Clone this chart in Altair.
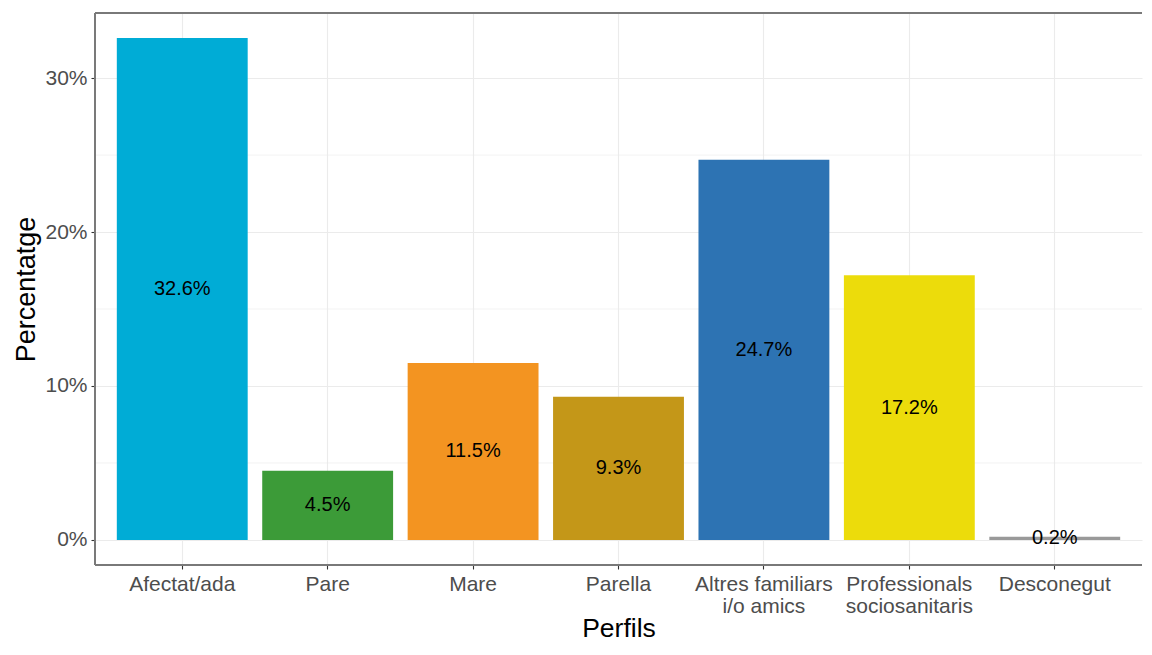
import altair as alt
import pandas as pd

categories = ["Afectat/ada", "Pare", "Mare", "Parella",
              "Altres familiars\ni/o amics", "Professionals\nsociosanitaris", "Desconegut"]
values = [32.6, 4.5, 11.5, 9.3, 24.7, 17.2, 0.2]
labels = ["32.6%", "4.5%", "11.5%", "9.3%", "24.7%", "17.2%", "0.2%"]
colors = ["#00ACD6", "#3C9B38", "#F39421", "#C49718", "#2D73B3", "#ECDC0B", "#999999"]
major_ticks = [0, 10, 20, 30]
minor_ticks = [5, 15, 25]

W, H = 1047, 552
FONT = "Liberation Sans"

df = pd.DataFrame({"cat": categories, "val": values, "label": labels})
minor_df = pd.DataFrame({"v": minor_ticks})

yscale = alt.Scale(domain=[-1.63, 34.23], nice=False, zero=False)
xscale = alt.Scale(paddingInner=0.1, paddingOuter=0.15)

xaxis = alt.Axis(
    title="Perfils", titleFontSize=26.5, titleColor="#000000", titleFontWeight="normal",
    titleFont=FONT, titleY=63, titleBaseline="middle",
    labelFont=FONT, labelFontSize=21, labelColor="#4D4D4D", labelAngle=0,
    labelExpr="split(datum.label, '\\n')", labelLineHeight=22, labelPadding=4,
    tickSize=4, tickColor="#333333", tickWidth=1.1, domain=False,
    grid=True, gridColor="#EBEBEB", gridWidth=1.1, bandPosition=0.5,
)
yaxis = alt.Axis(
    title="Percentatge", titleFontSize=27, titleColor="#000000", titleFontWeight="normal",
    titleFont=FONT, titleX=-69, titleY=H / 2, titleAngle=270, titleBaseline="middle",
    titleAlign="center",
    values=major_ticks, labelExpr="datum.value + '%'",
    labelFont=FONT, labelFontSize=21, labelColor="#4D4D4D", labelPadding=4,
    tickSize=4, tickColor="#333333", tickWidth=1.1, domain=False,
    grid=True, gridColor="#EBEBEB", gridWidth=1.1,
)

base = alt.Chart(df)

minor = alt.Chart(minor_df).mark_rule(color="#EBEBEB", strokeWidth=0.6).encode(
    y=alt.Y("v:Q", scale=yscale, axis=yaxis),
    x=alt.value(0), x2=alt.value(W),
)

bars = base.mark_bar().encode(
    x=alt.X("cat:N", sort=categories, scale=xscale, axis=xaxis),
    y=alt.Y("val:Q", scale=yscale, axis=yaxis),
    y2=alt.datum(0),
    color=alt.Color("cat:N", scale=alt.Scale(domain=categories, range=colors), legend=None),
)

text = base.transform_calculate(mid="datum.val / 2").mark_text(
    font=FONT, fontSize=20, color="#000000", baseline="middle", align="center"
).encode(
    x=alt.X("cat:N", sort=categories),
    y=alt.Y("mid:Q"),
    text="label:N",
)

border_color = "#7A7A7A"
left = alt.Chart(df).mark_rule(color=border_color, strokeWidth=1.4).encode(
    x=alt.value(0), y=alt.value(0), y2=alt.value(H))
top = alt.Chart(df).mark_rule(color=border_color, strokeWidth=1.4).encode(
    x=alt.value(0), x2=alt.value(W), y=alt.value(0))
bottom = alt.Chart(df).mark_rule(color=border_color, strokeWidth=1.4).encode(
    x=alt.value(0), x2=alt.value(W), y=alt.value(H))

chart = alt.layer(minor, bars, text, left, top, bottom).properties(
    width=W, height=H,
    autosize=alt.AutoSizeParams(type="none"),
    padding={"left": 87, "top": 5, "right": 2, "bottom": 80},
    background="white",
).configure_view(stroke=None)

chart.save("out.html", embed_options={"renderer": "svg", "actions": False})
